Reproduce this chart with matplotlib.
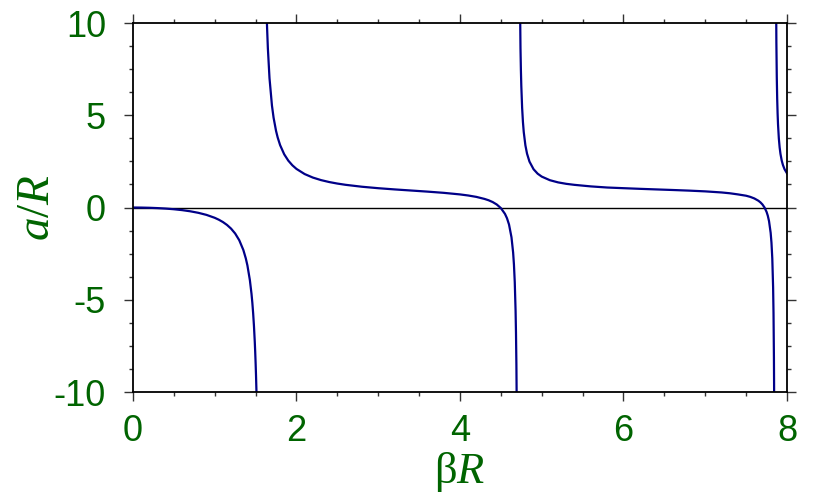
import matplotlib
matplotlib.use("Agg")
import matplotlib.pyplot as plt
import numpy as np
from matplotlib.ticker import MultipleLocator

plt.rcParams['mathtext.fontset'] = 'custom'
plt.rcParams['mathtext.rm'] = 'Liberation Serif'
plt.rcParams['mathtext.it'] = 'Liberation Serif:italic'
plt.rcParams['axes.unicode_minus'] = False

# a/R versus beta*R, one list per branch between the poles
x1 = [0.0, 0.1, 0.2, 0.3, 0.4, 0.5, 0.6, 0.7, 0.8, 0.9, 1.0, 1.05, 1.1, 1.15,
      1.2, 1.25, 1.3, 1.35, 1.38, 1.4, 1.43, 1.45, 1.46, 1.47, 1.48, 1.49,
      1.495, 1.5, 1.505, 1.51, 1.515]
y1 = [0.0, -0.0033, -0.0135, -0.031, -0.057, -0.0926, -0.140, -0.2033, -0.287,
      -0.400, -0.557, -0.660, -0.786, -0.943, -1.144, -1.408, -1.771, -2.300,
      -2.753, -3.141, -3.936, -4.681, -5.154, -5.730, -6.425, -7.288, -7.807,
      -8.40, -9.08, -9.88, -10.82]

x2 = [1.63, 1.64, 1.65, 1.67, 1.7, 1.72, 1.75, 1.77, 1.8, 1.85, 1.9, 1.95, 2.0,
      2.1, 2.2, 2.3, 2.4, 2.5, 2.6, 2.8, 3.0, 3.2, 3.4, 3.6, 3.8, 4.0, 4.1,
      4.2, 4.3, 4.35, 4.4, 4.45, 4.5, 4.55, 4.575, 4.6, 4.63, 4.65, 4.66,
      4.67, 4.68, 4.685, 4.69, 4.695]
y2 = [11.35, 9.80, 8.636, 7.016, 5.528, 4.868, 4.155, 3.798, 3.381, 2.885,
      2.541, 2.288, 2.0925, 1.8142, 1.6245, 1.4866, 1.3817, 1.2988, 1.2314,
      1.127, 1.0475, 0.9817, 0.9223, 0.8629, 0.7964, 0.7106, 0.6528, 0.5767,
      0.4661, 0.3937, 0.2963, 0.1633, -0.0305, -0.342, -0.581, -0.925, -1.615,
      -2.442, -3.092, -4.047, -5.594, -6.788, -8.518, -11.24]

x3 = [4.73, 4.74, 4.745, 4.75, 4.76, 4.77, 4.78, 4.8, 4.82, 4.85, 4.9, 4.95,
      5.0, 5.1, 5.2, 5.3, 5.4, 5.6, 5.8, 6.0, 6.2, 6.4, 6.6, 6.8, 7.0, 7.2,
      7.3, 7.4, 7.5, 7.55, 7.6, 7.65, 7.675, 7.7, 7.725, 7.75, 7.765, 7.78,
      7.8, 7.81, 7.82, 7.83, 7.835, 7.84, 7.842, 7.845]
y3 = [13.0, 8.642, 7.462, 6.596, 5.410, 4.636, 4.090, 3.372, 2.921, 2.489,
      2.075, 1.834, 1.676, 1.4803, 1.3626, 1.2842, 1.2294, 1.1453, 1.0847,
      1.0485, 1.0134, 0.9817, 0.9504, 0.9167, 0.8755, 0.8167, 0.7731, 0.7111,
      0.6392, 0.5783, 0.4932, 0.3682, 0.2797, 0.1632, 0.002, -0.236, -0.443,
      -0.734, -1.372, -1.908, -2.760, -4.32, -5.717, -8.11, -9.63, -13.16]

x4 = [7.865, 7.87, 7.875, 7.88, 7.885, 7.89, 7.9, 7.91, 7.92, 7.935, 7.95,
      7.97, 8.0]
y4 = [12.56, 8.94, 7.05, 5.88, 5.090, 4.519, 3.750, 3.255, 2.910, 2.552,
      2.306, 2.077, 1.850]

green = '#006400'
navy = '#000088'

fig = plt.figure(figsize=(8.3, 4.95), dpi=100)
ax = fig.add_axes([0.1602, 0.208, 0.788, 0.7455])

ax.axhline(0, color='black', lw=1.0, zorder=1)
for xs, ys in [(x1, y1), (x2, y2), (x3, y3), (x4, y4)]:
    ax.plot(xs, ys, color=navy, lw=1.6, zorder=2)

ax.set_xlim(0, 8)
ax.set_ylim(-10, 10)
ax.xaxis.set_major_locator(MultipleLocator(2))
ax.xaxis.set_minor_locator(MultipleLocator(0.5))
ax.yaxis.set_major_locator(MultipleLocator(5))
ax.yaxis.set_minor_locator(MultipleLocator(1.25))
ax.tick_params(which='both', direction='out', top=True, right=True,
               color='#333333', width=1.0, labelcolor=green, labelsize=26)
ax.tick_params(which='major', length=6.5)
ax.tick_params(which='minor', length=3.2)
ax.tick_params(axis='x', which='major', pad=9)
ax.tick_params(axis='y', which='major', pad=13)
for lab in ax.get_xticklabels() + ax.get_yticklabels():
    lab.set_fontfamily('Liberation Sans')
for s in ax.spines.values():
    s.set_linewidth(1.3)

ax.set_xlabel(r'$\mathrm{β}\mathit{R}$', fontsize=32, color=green, labelpad=1)
ax.set_ylabel(r'$\mathit{a}\mathrm{/}\mathit{R}$', fontsize=34, color=green,
              labelpad=-4)

fig.savefig('out.png', dpi=100)
